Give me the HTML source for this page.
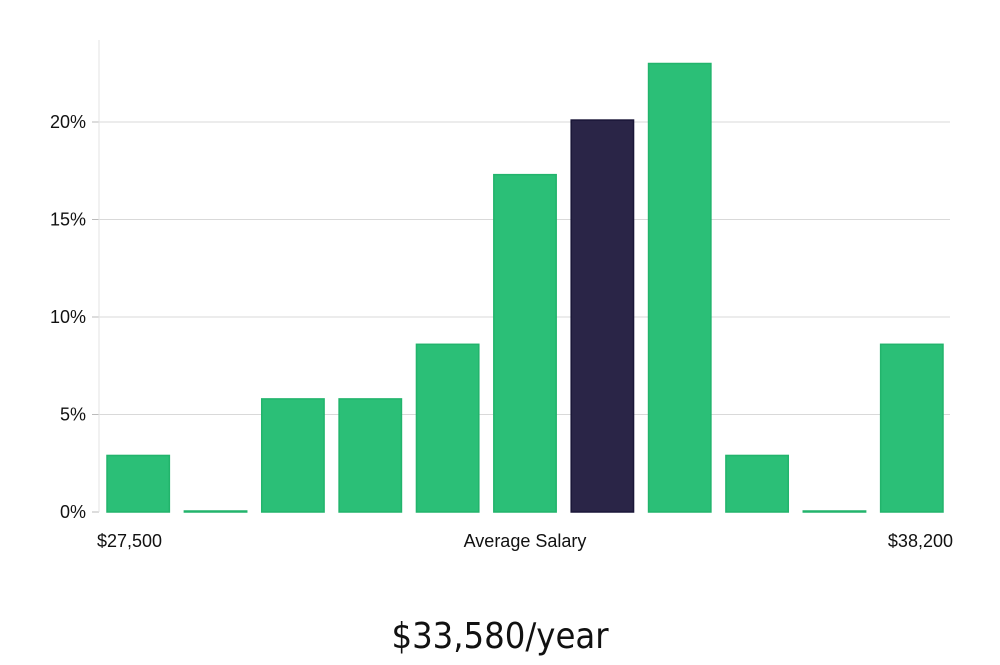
<!DOCTYPE html>
<html><head><meta charset="utf-8"><style>
html,body{margin:0;padding:0;background:#fff;}
body{width:1000px;height:660px;overflow:hidden;font-family:"Liberation Sans",sans-serif;}
</style></head><body>
<svg id="chart" width="1000" height="660" xmlns="http://www.w3.org/2000/svg" style="font-family:'Liberation Sans',sans-serif">
<g id="grid"></g>
<g id="bars"></g>
<g id="yaxis"></g>
<text x="97" y="547" font-size="18" fill="#111">$27,500</text>
<text x="525" y="547" font-size="18" fill="#111" text-anchor="middle">Average Salary</text>
<text x="953" y="547" font-size="18" fill="#111" text-anchor="end">$38,200</text>
<text x="500" y="648" font-size="36" fill="#111" text-anchor="middle" style="font-family:'DejaVu Sans Condensed','Liberation Sans Narrow','Liberation Sans',sans-serif" font-stretch="condensed">$33,580/year</text>
</svg>
<script>
const values = [2.9, 0, 5.8, 5.8, 8.6, 17.3, 20.1, 23.0, 2.9, 0, 8.6];
const highlightIndex = 6;
const yTicks = [0, 5, 10, 15, 20];
const yTickLabels = ["0%", "5%", "10%", "15%", "20%"];
const NS = "http://www.w3.org/2000/svg";
const x0 = 99, x1 = 950, yBase = 512, pxPer = 19.5;
const y = v => yBase - v * pxPer;
const slot = (x1 - x0) / values.length;
const grid = document.getElementById('grid'), bars = document.getElementById('bars'), yaxis = document.getElementById('yaxis');
function mk(tag, attrs, parent){const e=document.createElementNS(NS,tag);for(const k in attrs)e.setAttribute(k,attrs[k]);parent.appendChild(e);return e;}
yTicks.forEach((t,i)=>{
  if(t>0){const g=mk('line',{x1:x0,x2:x1,y1:y(t),y2:y(t),stroke:'#d9d9d9','stroke-width':1},grid);
  
  }
  const tk=mk('line',{x1:x0-7,x2:x0,y1:y(t),y2:y(t),stroke:'#bbb','stroke-width':1},yaxis);
  
  
  const lb=mk('text',{x:x0-13,y:y(t)+6,'font-size':18,fill:'#111','text-anchor':'end'},yaxis);
  lb.textContent=yTickLabels[i];
  
  
});
const ax=mk('line',{x1:x0,x2:x0,y1:40,y2:yBase,stroke:'#e3e3e3','stroke-width':1},yaxis);


values.forEach((v,i)=>{
  const bx=x0+slot*i+8, bw=slot-15;
  const h=Math.max(v*pxPer,1);
  const hi=i===highlightIndex;
  const r=mk('rect',{x:bx,y:yBase-h,width:bw,height:h,fill:hi?'#2a2547':'#2bbf77',stroke:hi?'#1a1638':'#22b46c','stroke-width':1.5},bars);
  
  
});
</script>
</body></html>
